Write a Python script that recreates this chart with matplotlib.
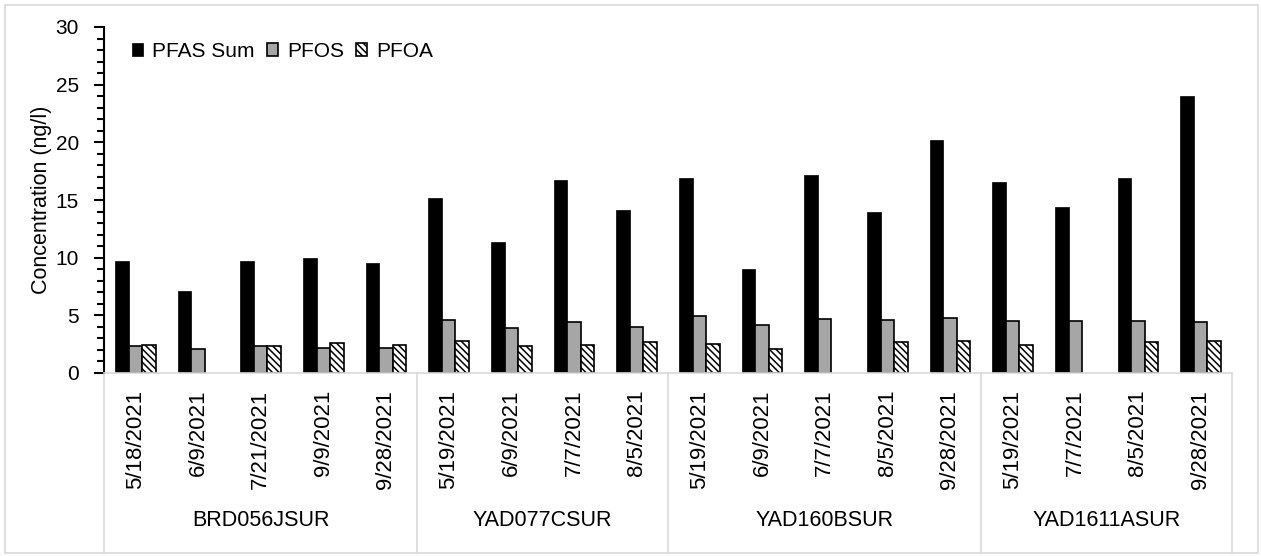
import numpy as np
import matplotlib
matplotlib.use("Agg")
import matplotlib.pyplot as plt
from matplotlib.patches import Rectangle
from matplotlib.lines import Line2D
import matplotlib.transforms as mtransforms

plt.rcParams['font.family'] = ['Liberation Sans', 'DejaVu Sans']
plt.rcParams['hatch.linewidth'] = 1.1

# ---- data ----
groups = ["BRD056JSUR", "YAD077CSUR", "YAD160BSUR", "YAD1611ASUR"]
group_dates = [
    ["5/18/2021", "6/9/2021", "7/21/2021", "9/9/2021", "9/28/2021"],
    ["5/19/2021", "6/9/2021", "7/7/2021", "8/5/2021"],
    ["5/19/2021", "6/9/2021", "7/7/2021", "8/5/2021", "9/28/2021"],
    ["5/19/2021", "7/7/2021", "8/5/2021", "9/28/2021"],
]
pfas_sum = [9.7, 7.1, 9.7, 10.0, 9.5,
            15.2, 11.4, 16.7, 14.1,
            16.9, 9.0, 17.2, 14.0, 20.2,
            16.6, 14.4, 16.9, 24.0]
pfos = [2.3, 2.1, 2.3, 2.2, 2.2,
        4.6, 3.9, 4.4, 4.0,
        4.9, 4.2, 4.7, 4.6, 4.8,
        4.5, 4.5, 4.5, 4.4]
pfoa = [2.4, np.nan, 2.3, 2.6, 2.4,
        2.8, 2.3, 2.4, 2.7,
        2.5, 2.1, np.nan, 2.7, 2.8,
        2.4, np.nan, 2.7, 2.8]
series_names = ["PFAS Sum", "PFOS", "PFOA"]

dates = [d for g in group_dates for d in g]
n = len(dates)
x = np.arange(n)

W, H = 1261, 556
fig = plt.figure(figsize=(W / 100, H / 100), dpi=100)
ax = fig.add_axes([104 / W, 1 - 373 / H, (1232 - 104) / W, (373 - 27) / H])

bw = 0.215
ax.bar(x - bw, pfas_sum, bw, color='black', edgecolor='black', linewidth=0.5, label=series_names[0])
ax.bar(x, pfos, bw, color='#A6A6A6', edgecolor='black', linewidth=1.2, label=series_names[1])
ax.bar(x + bw, pfoa, bw, color='white', edgecolor='black', linewidth=1.2,
       hatch='\\\\\\\\\\', label=series_names[2])

ax.set_xlim(-0.5, n - 0.5)
ax.set_ylim(0, 30)
ax.set_yticks(np.arange(0, 31, 5))
ax.set_yticks(np.arange(0, 31, 1), minor=True)
ax.tick_params(axis='y', which='major', length=7, width=1.5, direction='out',
               labelsize=15, pad=11)
ax.tick_params(axis='y', which='minor', length=5, width=1.5, direction='out')
ax.set_xticks(x)
ax.set_xticklabels(dates, rotation=90, fontsize=16, va='top')
ax.tick_params(axis='x', length=0, pad=12)

for s in ['top', 'right']:
    ax.spines[s].set_visible(False)
ax.spines['left'].set_linewidth(1.5)
ax.spines['bottom'].set_color('#D9D9D9')
ax.spines['bottom'].set_linewidth(1.2)

ax.set_ylabel("Concentration (ng/l)", fontsize=15.5)
ax.yaxis.set_label_coords(-0.046, 0.5)

# category table below axis
trans = mtransforms.blended_transform_factory(ax.transData, ax.transAxes)
bottom_y = -(553 - 373) / (373 - 27)
start = 0
bounds = [-0.5]
for g, gd in zip(groups, group_dates):
    end = start + len(gd)
    bounds.append(end - 0.5)
    ax.text((start + end - 1) / 2, -(521 - 373) / (373 - 27), g, transform=trans,
            ha='center', va='center', fontsize=15.5)
    start = end
for b in bounds:
    ax.add_line(Line2D([b, b], [0, bottom_y], transform=trans, color='#D9D9D9',
                       linewidth=1.2, clip_on=False))

leg = ax.legend(loc='upper left', bbox_to_anchor=(0.0248, 0.958), frameon=False,
                ncol=3, fontsize=15, borderpad=0, borderaxespad=0,
                handlelength=0.55, handleheight=0.6, handletextpad=0.43,
                columnspacing=0.56)

# figure border
fig.patches.append(Rectangle((5 / W, 3 / H), (1258 - 5) / W, (551 - 3) / H,
                             transform=fig.transFigure, fill=False,
                             edgecolor='#D9D9D9', linewidth=1.2))

fig.savefig("out.png", dpi=100)
